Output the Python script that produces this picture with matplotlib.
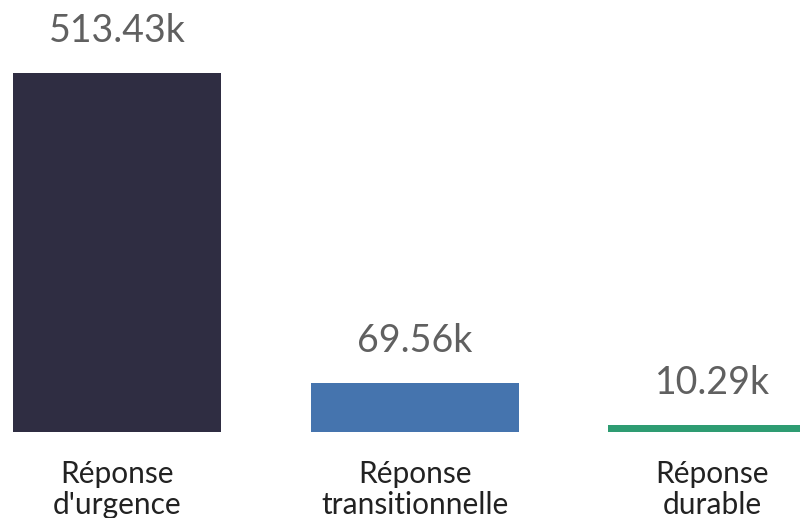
import matplotlib
matplotlib.use("Agg")
import matplotlib.pyplot as plt

categories = ["Réponse\nd'urgence", "Réponse\ntransitionnelle", "Réponse\ndurable"]
values = [513.43, 69.56, 10.29]
value_labels = ["513.43k", "69.56k", "10.29k"]
colors = ["#2f2d42", "#4574ae", "#2e9c72"]

plt.rcParams['font.family'] = ['Lato', 'DejaVu Sans']

fig = plt.figure(figsize=(8, 5.18), dpi=100)
ax = fig.add_axes([0, 86/518, 1, 432/518])
x = list(range(len(values)))
ax.bar(x, values, width=0.70, color=colors)
ax.set_xlim(-0.394, 2.294)
ax.set_ylim(0, 617.8)
ax.axis('off')

for i, (v, lab) in enumerate(zip(values, value_labels)):
    ax.annotate(lab, xy=(i, v), xytext=(0, 31), textcoords='offset pixels',
                ha='center', va='baseline', fontsize=27, color='#606060',
                annotation_clip=False)
    lines = categories[i].split("\n")
    for j, line in enumerate(lines):
        ax.annotate(line, xy=(i, 0), xytext=(0, -51 - 31 * j), textcoords='offset pixels',
                    ha='center', va='baseline', fontsize=21.5, color='#222222',
                    annotation_clip=False)

fig.savefig("out.png", dpi=100)
